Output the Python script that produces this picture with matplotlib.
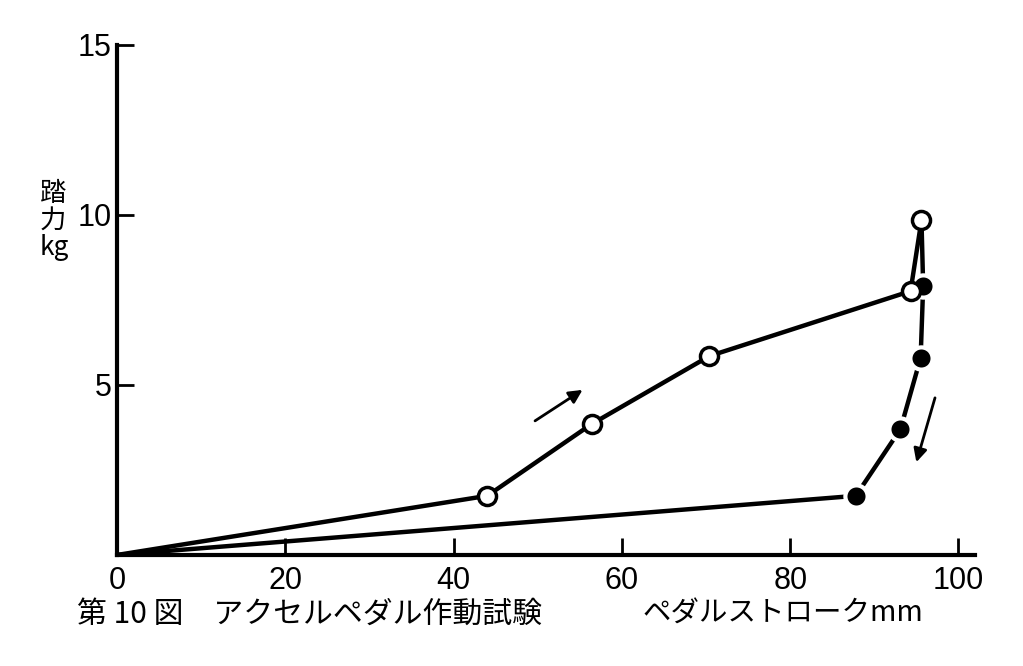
import matplotlib.pyplot as plt

plt.rcParams['font.family'] = ['Noto Sans CJK JP', 'DejaVu Sans']

# loading (open circles) and unloading (filled circles)
load_x = [0, 44.0, 56.4, 70.4, 94.3, 95.6]
load_y = [0, 1.74, 3.85, 5.85, 7.76, 9.85]
unload_x = [95.6, 95.8, 95.5, 93.1, 87.8, 0]
unload_y = [9.85, 7.9, 5.8, 3.7, 1.74, 0]

fig = plt.figure(figsize=(10.23, 6.66), dpi=100)
ax = fig.add_axes([0.1144, 0.1667, 0.839, 0.7658])

ax.plot(unload_x, unload_y, color='black', lw=3.2, zorder=2)
ax.plot(unload_x[1:-1], unload_y[1:-1], 'o', color='black', ms=16,
        mec='white', mew=3, zorder=3)
ax.plot(load_x, load_y, color='black', lw=3.2, zorder=4)
ax.plot(load_x[1:], load_y[1:], 'o', color='black', mfc='white', ms=13,
        mew=2.5, zorder=5)

# direction arrows
ax.annotate('', xy=(55.6, 4.9), xytext=(49.4, 3.9),
            arrowprops=dict(arrowstyle='-|>', color='black', lw=2,
                            mutation_scale=20))
ax.annotate('', xy=(94.9, 2.65), xytext=(97.3, 4.7),
            arrowprops=dict(arrowstyle='-|>', color='black', lw=2,
                            mutation_scale=20))

ax.set_xlim(0, 102)
ax.set_ylim(0, 15)
ax.set_xticks([0, 20, 40, 60, 80, 100])
ax.set_yticks([5, 10, 15])
ax.tick_params(direction='in', length=12, width=2, labelsize=22, pad=4)
ax.tick_params(axis='x', pad=8)
for lbl in ax.get_xticklabels() + ax.get_yticklabels():
    lbl.set_family(['Liberation Sans', 'DejaVu Sans'])
for s in ['top', 'right']:
    ax.spines[s].set_visible(False)
for s in ['left', 'bottom']:
    ax.spines[s].set_linewidth(3)

ax.text(-0.09, 0.655, '踏\n力\nkg', transform=ax.transAxes, fontsize=19,
        ha='left', va='center', linespacing=1.0)
fig.text(0.075, 0.078, '第 10 図　アクセルペダル作動試験', fontsize=21.5,
         va='center')
fig.text(0.628, 0.078, 'ペダルストロークmm', fontsize=20.5, va='center')

fig.savefig('out.png', dpi=100)
